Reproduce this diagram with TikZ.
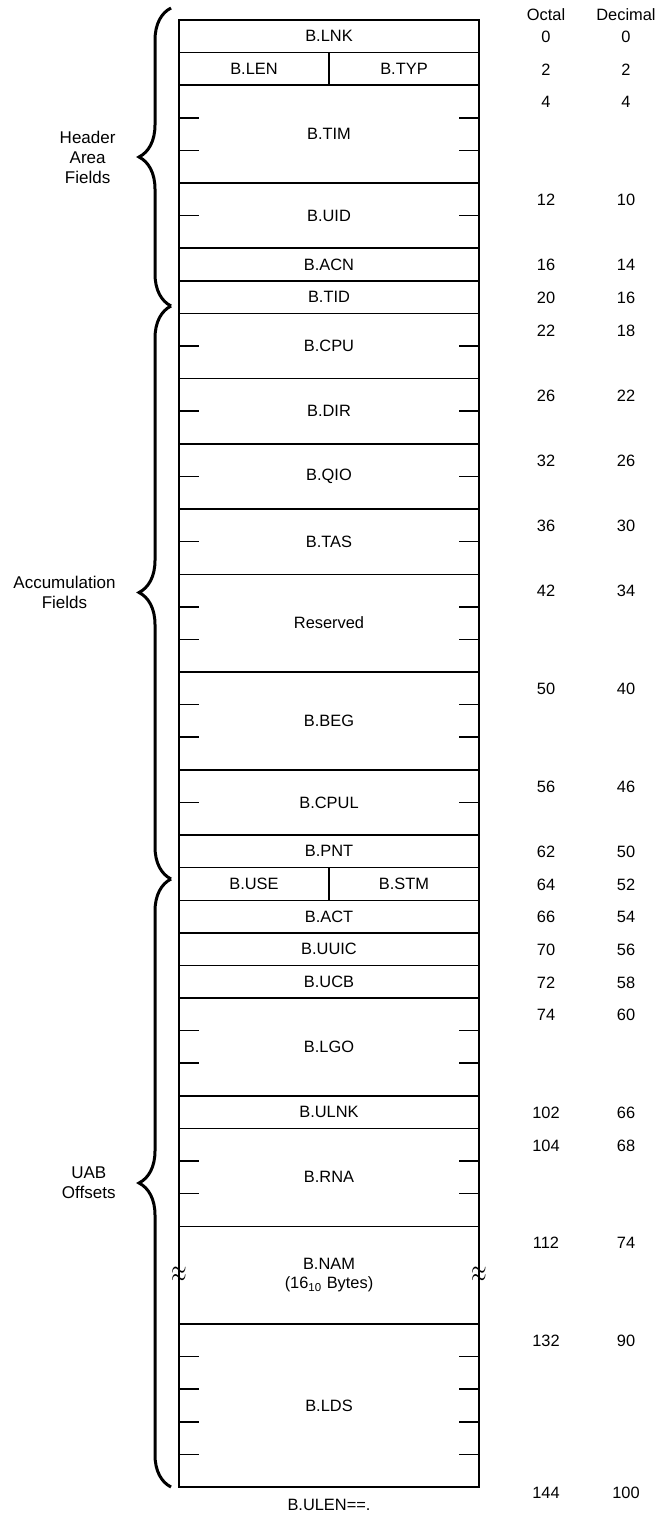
\documentclass[tikz,border=0pt]{standalone}
\usepackage{fontspec}
\setmainfont{Liberation Sans}
\usetikzlibrary{positioning,decorations.pathreplacing}

\newcommand{\wordh}{16.3pt}
\tikzset{
  field/.style={draw, line width=0.7pt, minimum width=150pt, minimum height=\wordh, inner sep=0pt, outer sep=0pt},
  half/.style={field, minimum width=75pt},
  num/.style={inner sep=0pt},
  breakmark/.style={inner sep=0pt, font=\fontsize{10}{10}\selectfont, yscale=1.6},
  grpbrace/.style={decorate, decoration={brace, amplitude=16pt}, line width=1.5pt},
  grp/.style={align=center, inner sep=0pt, left=27pt, font=\fontsize{8.5}{10}\selectfont},
}
% small marks at the word boundaries inside a field
\newcommand{\wordticks}[2]{%
  \foreach \k in {1,...,#2} {
    \draw[line width=0.8pt] (#1.north west) ++(0pt,-\k*\wordh) -- ++(10pt,0pt);
    \draw[line width=0.8pt] (#1.north east) ++(0pt,-\k*\wordh) -- ++(-10pt,0pt);
  }}

\begin{document}
\begin{tikzpicture}[x=0.5pt, y=-0.5pt, font=\fontsize{8.2}{9.8}\selectfont]
    \useasboundingbox (0,0) rectangle (659,1514);

    % Column headings
    \node[num] (octal) at (546,15) {Octal};
    \node[num] (decimal) at (626,15) {Decimal};

    % The block, one word per \wordh
    \node[field, anchor=north] (lnk) at (329,20) {B.LNK};
    \node[half, anchor=north west] (len) at (lnk.south west) {B.LEN};
    \node[half, anchor=north east] (typ) at (lnk.south east) {B.TYP};
    \node[field, minimum height=3*\wordh, anchor=north] (tim) at (len.south -| lnk) {B.TIM};
    \node[field, minimum height=2*\wordh, below=0pt of tim] (uid) {B.UID};
    \node[field, below=0pt of uid] (acn) {B.ACN};
    \node[field, below=0pt of acn] (tid) {B.TID};
    \node[field, minimum height=2*\wordh, below=0pt of tid] (cpu) {B.CPU};
    \node[field, minimum height=2*\wordh, below=0pt of cpu] (dir) {B.DIR};
    \node[field, minimum height=2*\wordh, below=0pt of dir] (qio) {B.QIO};
    \node[field, minimum height=2*\wordh, below=0pt of qio] (tas) {B.TAS};
    \node[field, minimum height=3*\wordh, below=0pt of tas] (res) {Reserved};
    \node[field, minimum height=3*\wordh, below=0pt of res] (beg) {B.BEG};
    \node[field, minimum height=2*\wordh, below=0pt of beg] (cpul) {B.CPUL};
    \node[field, below=0pt of cpul] (pnt) {B.PNT};
    \node[half, anchor=north west] (use) at (pnt.south west) {B.USE};
    \node[half, anchor=north east] (stm) at (pnt.south east) {B.STM};
    \node[field, anchor=north] (act) at (use.south -| pnt) {B.ACT};
    \node[field, below=0pt of act] (uuic) {B.UUIC};
    \node[field, below=0pt of uuic] (ucb) {B.UCB};
    \node[field, minimum height=3*\wordh, below=0pt of ucb] (lgo) {B.LGO};
    \node[field, below=0pt of lgo] (ulnk) {B.ULNK};
    \node[field, minimum height=3*\wordh, below=0pt of ulnk] (rna) {B.RNA};
    \node[field, minimum height=3*\wordh, align=center, below=0pt of rna] (nam) {B.NAM\\(16\textsubscript{10} Bytes)};
    \node[field, minimum height=5*\wordh, below=0pt of nam] (lds) {B.LDS};
    \node (ulen) at ([yshift=-9pt]lds.south) {B.ULEN==.};

    % Word marks
    \wordticks{tim}{2}
    \wordticks{uid}{1}
    \wordticks{cpu}{1}
    \wordticks{dir}{1}
    \wordticks{qio}{1}
    \wordticks{tas}{1}
    \wordticks{res}{2}
    \wordticks{beg}{2}
    \wordticks{cpul}{1}
    \wordticks{lgo}{2}
    \wordticks{rna}{2}
    \wordticks{lds}{4}

    % Break marks on B.NAM
    \node[breakmark] (nam-l) at (nam.west) {$\approx$};
    \node[breakmark] (nam-r) at (nam.east) {$\approx$};

    % Offsets
    \foreach \f/\o/\d in {lnk/0/0, len/2/2, tim/4/4, uid/12/10, acn/16/14, tid/20/16,
        cpu/22/18, dir/26/22, qio/32/26, tas/36/30, res/42/34, beg/50/40, cpul/56/46,
        pnt/62/50, use/64/52, act/66/54, uuic/70/56, ucb/72/58, lgo/74/60, ulnk/102/66,
        rna/104/68, nam/112/74, lds/132/90} {
      \node[num, yshift=-8.5pt] (o-\f) at (\f.north -| octal) {\o};
      \node[num, yshift=-8.5pt] (d-\f) at (\f.north -| decimal) {\d};
    }
    \node[num, yshift=-3pt] (o-end) at (lds.south -| octal) {144};
    \node[num, yshift=-3pt] (d-end) at (lds.south -| decimal) {100};

    % Braces for the groups
    \coordinate (hdr-top) at (171,8);
    \coordinate (hdr-bot) at (171,306);
    \coordinate (acc-bot) at (171,879);
    \coordinate (uab-bot) at (171,1487);
    \draw[grpbrace] (hdr-bot) -- node[grp] (hdrlbl) {Header\\Area\\Fields} (hdr-top);
    \draw[grpbrace] (acc-bot) -- node[grp] (acclbl) {Accumulation\\Fields} (hdr-bot);
    \draw[grpbrace] (uab-bot) -- node[grp] (uablbl) {UAB\\Offsets} (acc-bot);

\end{tikzpicture}
\end{document}
